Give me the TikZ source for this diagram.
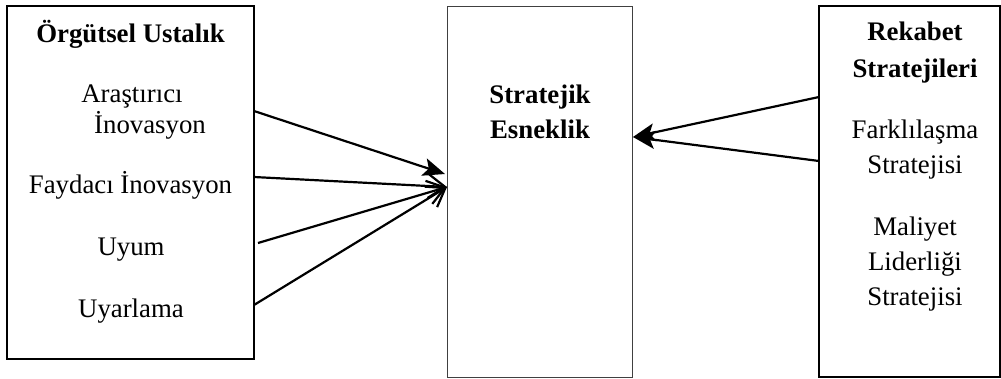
\documentclass[tikz,border=0pt]{standalone}
\usepackage{fontspec}
\setmainfont{Liberation Serif}
\usetikzlibrary{arrows.meta,calc}
\begin{document}
\begin{tikzpicture}[x=1pt,y=-1pt]
        % Define styles
        \tikzset{
            kutu/.style={draw, line width=1.3pt, inner sep=0pt, outer sep=0pt},
            yazi/.style={font=\fontsize{26.8}{31}\selectfont, anchor=base, inner sep=0pt},
            baslik/.style={yazi, font=\fontsize{26.8}{31}\selectfont\bfseries},
            okucu/.style={line width=2.2pt, -{Straight Barb[length=17pt,width=24pt]}},
            dolu/.style={line width=2.2pt, -{Stealth[length=22pt,width=18pt,inset=5pt]}}
        }
        \useasboundingbox (0,0) rectangle (1001,378);
        % The three boxes
        \node[kutu, minimum width=247, minimum height=353] (ustalik) at (130.5,182.5) {};
        \node[kutu, draw=black!75, line width=1pt, minimum width=185, minimum height=371] (esneklik) at (539.5,191.5) {};
        \node[kutu, minimum width=181, minimum height=371] (rekabet) at (909.5,191.5) {};
        % Left box texts
        \node[baslik] (ustalikbas) at (130.5,42) {Örgütsel Ustalık};
        \node[yazi] (arastirici) at (132,102) {Araştırıcı};
        \node[yazi] (inovasyon) at (150,133) {İnovasyon};
        \node[yazi] (faydaci) at (130.5,193) {Faydacı İnovasyon};
        \node[yazi] (uyum) at (131,255) {Uyum};
        \node[yazi] (uyarlama) at (131,317) {Uyarlama};
        % Middle box texts
        \node[baslik] (stratejik) at (540,103) {Stratejik};
        \node[baslik] (esnek) at (540,138) {Esneklik};
        % Right box texts
        \node[baslik] (rekabetbas) at (915,40) {Rekabet};
        \node[baslik] (stratejileri) at (915,77) {Stratejileri};
        \node[yazi] (farklilasma) at (915,138) {Farklılaşma};
        \node[yazi] (stratejisiA) at (915,173) {Stratejisi};
        \node[yazi] (maliyet) at (915,235) {Maliyet};
        \node[yazi] (liderligi) at (915,270) {Liderliği};
        \node[yazi] (stratejisiB) at (915,305) {Stratejisi};
        % Arrow tips on the middle box
        \coordinate (ucA) at ($(esneklik.north west)+(-2,168)$);
        \coordinate (ucB) at ($(esneklik.north west)+(0,181)$);
        \coordinate (ucC) at ($(esneklik.north east)+(1,131)$);
        % Left arrows
        \draw[dolu] ($(ustalik.north east)+(0,105)$) -- (ucA);
        \draw[okucu] ($(ustalik.north east)+(0,171)$) -- (ucB);
        \draw[okucu] ($(ustalik.north east)+(4,237)$) -- (ucB);
        \draw[okucu] ($(ustalik.north east)+(0,299)$) -- (ucB);
        % Right arrows
        \draw[dolu] ($(rekabet.north west)+(0,91)$) -- (ucC);
        \draw[dolu] ($(rekabet.north west)+(0,155)$) -- (ucC);
    \end{tikzpicture}
\end{document}
